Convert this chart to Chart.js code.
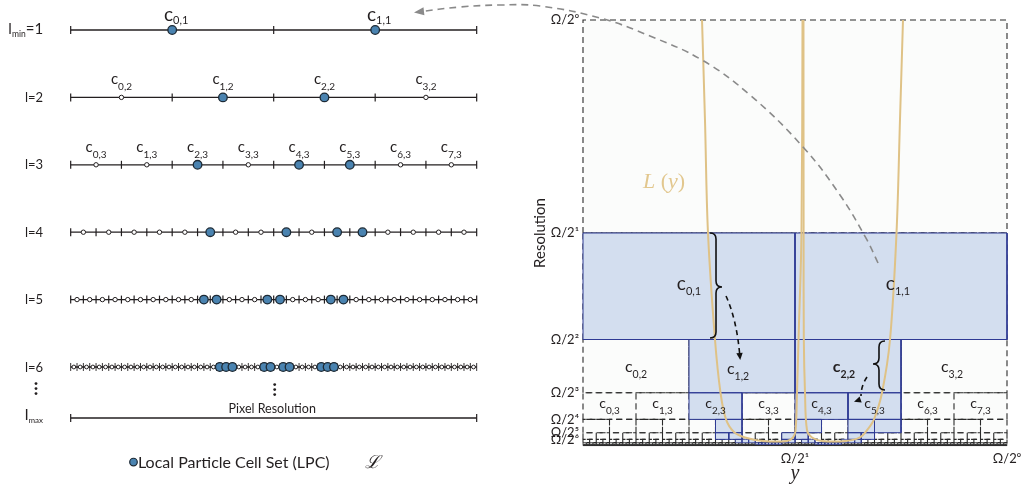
<!DOCTYPE html>
<html><head><meta charset="utf-8">
<script src="https://cdn.jsdelivr.net/npm/chart.js@4.4.0/dist/chart.umd.min.js"></script>
<style>
html,body{margin:0;padding:0;background:#fff;}
#wrap{position:relative;width:1032px;height:489px;overflow:hidden;background:#fff;}
.box{position:absolute;left:0;top:0;}
</style></head><body>
<div id="wrap">
<div class="box" style="width:1032px;height:489px"><canvas id="right"></canvas></div>
<div class="box" style="width:520px;height:489px"><canvas id="left"></canvas></div>
</div>
<script>
// ---------------- DATA ----------------
// Left panel: Local Particle Cell levels
const levels = [1, 2, 3, 4, 5, 6];
const levelLabels = ['l_{min}=1', 'l=2', 'l=3', 'l=4', 'l=5', 'l=6'];
const lpcCells = [[0, 1], [1, 2], [2, 4, 5], [5, 8, 10, 11], [10, 11, 15, 16, 20, 21], [23, 24, 25, 30, 31, 33, 34, 39, 40, 41]];
const labelledLevels = [1, 2, 3];
const lmaxRow = 6.757;
const lmaxLabel = 'l_{max}';
const pixelResLabel = 'Pixel Resolution';
const legendLabel = 'Local Particle Cell Set (LPC)';
const legendSymbol = 'ℒ';

// Right panel: resolution grid
const gridLevels = [0, 1, 2, 3, 4, 5, 6, 7, 8, 9];
const blueCells = {
  1: [0, 1],
  2: [1, 2],
  3: [2, 4, 5],
  4: [5, 8, 10, 11],
  5: [10, 11, 15, 16, 20, 21],
  6: [23, 24, 25, 30, 31, 33, 34, 39, 40, 41],
  7: [52, 53, 54, 55, 56, 57, 58, 59, 70, 71, 72, 73, 74, 75, 76, 77]
};
const resTickVals = [1, 0.5, 0.25, 0.125, 0.0625, 0.03125, 0.015625];
const resTickLabels = ['Ω/2⁰', 'Ω/2¹', 'Ω/2²', 'Ω/2³', 'Ω/2⁴', 'Ω/2⁵', 'Ω/2⁶'];
const yTickVals = [0.5, 1];
const yTickLabels = ['Ω/2¹', 'Ω/2⁰'];
const cellLabelLevels = [1, 2, 3];

// L(y) curve, two U-shaped branches (x = position, y = resolution)
const curveLeft = [
  [0.2807, 1.0], [0.2877, 0.7653], [0.2948, 0.5], [0.3113, 0.25], [0.3243, 0.125],
  [0.3373, 0.0625], [0.3561, 0.0329], [0.3821, 0.02], [0.4245, 0.0117], [0.4811, 0.0117],
  [0.4953, 0.02], [0.5012, 0.0352], [0.5047, 0.125], [0.5083, 0.25], [0.5153, 0.5], [0.5177, 1.0]
];
const curveRight = [
  [0.5200, 1.0], [0.5203, 0.5], [0.5208, 0.25], [0.5236, 0.125], [0.5283, 0.0376],
  [0.5401, 0.02], [0.5637, 0.0117], [0.6203, 0.0117], [0.6533, 0.02], [0.6722, 0.04],
  [0.6863, 0.0625], [0.7052, 0.125], [0.7241, 0.25], [0.7394, 0.5], [0.7476, 0.7653], [0.7547, 1.0]
];
// dashed connector from the right panel back to the left panel (ends at the arrow tip)
const arcPath = [
  [0.6958, 0.4296], [0.6698, 0.4836], [0.6061, 0.5892], [0.5189, 0.7019], [0.3939, 0.8239],
  [0.2807, 0.9061], [0.1580, 0.9624], [0.0401, 1.0047], [-0.1014, 1.0329], [-0.1958, 1.0352],
  [-0.2901, 1.0305], [-0.3915, 1.0188]
];
const braces = [
  {x: 0.3137, top: 0.5, bottom: 0.2535, tip: 0.3732, dir: 1, d: 6},
  {x: 0.6981, top: 0.2465, bottom: 0.1315, tip: 0.1925, dir: -1, d: 6}
];
const arrows = [
  {from: [0.3373, 0.3521], ctrl: [0.3632, 0.2958], to: [0.3703, 0.2066], head: [0.3703, 0.2066], dirPx: [0.1, 1]},
  {from: [0.6698, 0.1620], ctrl: [0.6557, 0.1408], to: [0.6557, 0.1174], head: [0.6439, 0.1056], dirPx: [-1, 0.35]}
];
const curveLabelPos = [0.1415, 0.6197];

// ---------------- STYLE ----------------
const FONT = 'Lato, "Open Sans", "DejaVu Sans", sans-serif';
const TXT = '#231f20';
const LINE = '#231f20';
const BLUE_PT = '#4a83b0';
const CELL_BLUE = '#d3deef';
const CELL_EDGE = '#2e3a94';
const CURVE = '#dfc286';
const pow2 = l => Math.pow(2, l);

function parseRich(s) {
  const parts = []; const re = /_\{([^}]*)\}/g; let last = 0, m;
  while ((m = re.exec(s))) {
    if (m.index > last) parts.push({t: s.slice(last, m.index), sub: false});
    parts.push({t: m[1], sub: true}); last = re.lastIndex;
  }
  if (last < s.length) parts.push({t: s.slice(last), sub: false});
  return parts;
}
function drawRich(ctx, s, x, y, o) {
  const parts = parseRich(s);
  const w = o.weight || 'normal', fam = o.family || FONT;
  const fnt = p => `${w} ${p.sub ? o.subSize : o.size}px ${fam}`;
  const widths = parts.map(p => { ctx.font = fnt(p); return ctx.measureText(p.t).width; });
  const total = widths.reduce((a, b) => a + b, 0);
  let cx = o.align === 'right' ? x - total : o.align === 'center' ? x - total / 2 : x;
  ctx.textAlign = 'left'; ctx.textBaseline = 'alphabetic'; ctx.fillStyle = o.color || TXT;
  parts.forEach((p, i) => { ctx.font = fnt(p); ctx.fillText(p.t, cx, y + (p.sub ? o.subDy : 0)); cx += widths[i]; });
}

// ---------------- LEFT CHART ----------------
const lpcPts = [], whitePts = [], tickPts = [], lineSets = [];
levels.forEach((l, i) => {
  const n = pow2(l);
  for (let k = 0; k < n; k++) {
    const p = {x: (k + 0.5) / n, y: l};
    (lpcCells[i].includes(k) ? lpcPts : whitePts).push(p);
  }
  for (let k = 0; k <= n; k++) tickPts.push({x: k / n, y: l});
  lineSets.push({data: [{x: 0, y: l}, {x: 1, y: l}], showLine: true, borderColor: LINE, borderWidth: 1.3, pointRadius: 0});
});
tickPts.push({x: 0, y: lmaxRow}, {x: 1, y: lmaxRow});
lineSets.push({data: [{x: 0, y: lmaxRow}, {x: 1, y: lmaxRow}], showLine: true, borderColor: LINE, borderWidth: 1.3, pointRadius: 0});

const leftText = {
  id: 'leftText',
  afterDatasetsDraw(chart) {
    const {ctx, scales: {x, y}} = chart;
    ctx.save();
    const rx = x.getPixelForValue(-0.068);
    levels.forEach((l, i) => {
      if (i === 0) drawRich(ctx, levelLabels[i], rx, y.getPixelForValue(l) + 4.5, {size: 15, subSize: 8.5, subDy: 3, align: 'right'});
      else drawRich(ctx, levelLabels[i], rx, y.getPixelForValue(l) + 4.7, {size: 13, subSize: 8.5, subDy: 3, align: 'right'});
    });
    drawRich(ctx, lmaxLabel, rx, y.getPixelForValue(lmaxRow) + 2, {size: 16, subSize: 8, subDy: 3, align: 'right'});
    // cell labels
    labelledLevels.forEach(l => {
      const n = pow2(l);
      for (let k = 0; k < n; k++) {
        const px = x.getPixelForValue((k + 0.5) / n) + (l === 1 ? 4 : 0);
        const py = y.getPixelForValue(l) - (l === 1 ? 9 : 13);
        drawRich(ctx, `c_{${k},${l}}`, px, py, l === 1 ? {size: 19, subSize: 11, subDy: 3, align: 'center'} : {size: 15, subSize: 10, subDy: 6, align: 'center'});
      }
    });
    // vertical ellipsis
    ctx.fillStyle = TXT;
    [[-0.0854, 6.32], [0.5025, 6.335]].forEach(([vx, vr]) => {
      const cx = x.getPixelForValue(vx), cy = y.getPixelForValue(vr);
      [-5, 0, 5].forEach(dy => { ctx.beginPath(); ctx.arc(cx, cy + dy, 1.4, 0, Math.PI * 2); ctx.fill(); });
    });
    ctx.font = `12.5px ${FONT}`; ctx.textAlign = 'center'; ctx.textBaseline = 'alphabetic';
    ctx.fillText(pixelResLabel, x.getPixelForValue(0.4963), y.getPixelForValue(6.683));
    // legend
    const ly = y.getPixelForValue(7.41);
    const lx = x.getPixelForValue(0.1547);
    ctx.beginPath(); ctx.arc(lx, ly, 3.8, 0, Math.PI * 2);
    ctx.fillStyle = BLUE_PT; ctx.fill(); ctx.lineWidth = 1.2; ctx.strokeStyle = '#1d2a35'; ctx.stroke();
    ctx.fillStyle = TXT; ctx.textAlign = 'left'; ctx.textBaseline = 'alphabetic';
    ctx.font = `16px ${FONT}`;
    ctx.fillText(legendLabel, lx + 4.5, ly + 6);
    ctx.font = `italic 18px "DejaVu Serif", serif`;
    ctx.fillText(legendSymbol, x.getPixelForValue(0.726), ly + 6);
    ctx.restore();
  }
};

new Chart(document.getElementById('left'), {
  type: 'scatter',
  data: {datasets: [
    {data: lpcPts, pointRadius: 4.3, pointBackgroundColor: BLUE_PT, pointBorderColor: '#1d2a35', pointBorderWidth: 1.3},
    {data: whitePts, pointRadius: c => (c.raw && c.raw.y === 6 ? 1.9 : 2.2), pointBackgroundColor: '#fff', pointBorderColor: LINE, pointBorderWidth: 1},
    {data: tickPts, pointStyle: 'line', pointRotation: 90, pointRadius: 4, pointBorderColor: LINE, pointBorderWidth: c => (c.raw && c.raw.y === 6 ? 0.9 : 1.2)},
    ...lineSets
  ]},
  options: {
    responsive: true, maintainAspectRatio: false, animation: false, events: [],
    layout: {padding: 0, autoPadding: false},
    plugins: {legend: {display: false}, tooltip: {enabled: false}},
    scales: {
      x: {type: 'linear', display: false, min: -0.1741, max: 1.1067},
      y: {type: 'linear', display: false, reverse: true, min: 0.5549, max: 7.8101}
    }
  },
  plugins: [leftText]
});

// ---------------- RIGHT CHART ----------------
function rectPts(l, k) {
  const n = pow2(l), x0 = k / n, x1 = (k + 1) / n, t = 1 / n, b = 1 / (2 * n);
  return [{x: x0, y: b}, {x: x0, y: t}, {x: x1, y: t}, {x: x1, y: b}, {x: x0, y: b}, {x: x1, y: null}];
}
const whiteBorderSets = gridLevels.map(l => {
  const data = [];
  for (let k = 0; k < pow2(l); k++) data.push(...rectPts(l, k));
  return {data, showLine: true, borderColor: '#2a2a2a', borderWidth: l > 6 ? 0.8 : 1.1, borderDash: [6, 4], pointRadius: 0, clip: false};
});
const blueBorderSets = [], blueFillSets = [];
Object.keys(blueCells).forEach(key => {
  const l = +key, n = pow2(l);
  const bd = [], fd = [];
  blueCells[key].forEach(k => {
    bd.push(...rectPts(l, k));
    fd.push({x: k / n, y: 1 / n}, {x: (k + 1) / n, y: 1 / n}, {x: (k + 1) / n, y: null});
  });
  blueBorderSets.push({data: bd, showLine: true, borderColor: CELL_EDGE, borderWidth: l > 5 ? 0.7 : 1, pointRadius: 0, clip: false});
  blueFillSets.push({data: fd, showLine: true, borderWidth: 0, borderColor: 'rgba(0,0,0,0)', pointRadius: 0, fill: {value: 1 / (2 * n)}, backgroundColor: CELL_BLUE});
});
const bgFill = {data: [{x: 0, y: 1}, {x: 1, y: 1}], showLine: true, borderWidth: 0, borderColor: 'rgba(0,0,0,0)', pointRadius: 0, fill: {value: 0}, backgroundColor: '#fbfcfb'};
const toPts = a => a.map(([x, y]) => ({x, y}));
const curveSets = [curveLeft, curveRight].map(c => ({data: toPts(c), showLine: true, borderColor: CURVE, borderWidth: 2, pointRadius: 0, tension: 0.35, clip: false}));
const arcSet = {data: toPts(arcPath), showLine: true, borderColor: '#8a8a8a', borderWidth: 1.6, borderDash: [7, 5], pointRadius: 0, tension: 0.4, clip: false};

function arrowHead(ctx, x, y, dx, dy, len, hw, color) {
  const m = Math.hypot(dx, dy); dx /= m; dy /= m;
  ctx.beginPath();
  ctx.moveTo(x, y);
  ctx.lineTo(x - dx * len - dy * hw, y - dy * len + dx * hw);
  ctx.lineTo(x - dx * len + dy * hw, y - dy * len - dx * hw);
  ctx.closePath(); ctx.fillStyle = color; ctx.fill();
}

const rightText = {
  id: 'rightText',
  afterDatasetsDraw(chart) {
    const {ctx, scales: {x, y}} = chart;
    const P = ([a, b]) => [x.getPixelForValue(a), y.getPixelForValue(b)];
    ctx.save();
    // cell labels
    const sizes = {1: [19, 11, 5, 4], 2: [16, 10.5, 6, 6], 3: [14, 10, 6, 1.5]};
    const shift = {'1,1': -3, '1,2': -4, '2,2': -4, '3,2': -2};
    cellLabelLevels.forEach(l => {
      const n = pow2(l);
      for (let k = 0; k < n; k++) {
        const s = sizes[l];
        const cx = x.getPixelForValue((k + 0.5) / n) + (shift[k + ',' + l] || 0);
        const cy = y.getPixelForValue(0.75 / n) + s[3] + (k === 1 && l === 2 ? 2 : 0);
        drawRich(ctx, `c_{${k},${l}}`, cx, cy, {size: s[0], subSize: s[1], subDy: s[2], align: 'center', weight: (k === 2 && l === 2) ? 'bold' : 'normal'});
      }
    });
    // L(y) label
    const [lx, ly] = P(curveLabelPos);
    ctx.fillStyle = '#e2c78e'; ctx.textBaseline = 'middle'; ctx.textAlign = 'left';
    const parts = [['L', 'italic'], [' (', 'normal'], ['y', 'italic'], [')', 'normal']];
    let cx = lx;
    parts.forEach(([t, st]) => { ctx.font = `${st} 22px "Liberation Serif", serif`; ctx.fillText(t, cx, ly); cx += ctx.measureText(t).width; });
    // braces
    ctx.strokeStyle = '#111'; ctx.lineWidth = 1.6; ctx.setLineDash([]);
    braces.forEach(b => {
      const X = x.getPixelForValue(b.x), T = y.getPixelForValue(b.top), B = y.getPixelForValue(b.bottom), M = y.getPixelForValue(b.tip);
      const d = b.d, s = b.dir;
      ctx.beginPath();
      ctx.moveTo(X - s * d, T);
      ctx.quadraticCurveTo(X, T, X, T + d);
      ctx.lineTo(X, M - d);
      ctx.quadraticCurveTo(X, M, X + s * d, M);
      ctx.quadraticCurveTo(X, M, X, M + d);
      ctx.lineTo(X, B - d);
      ctx.quadraticCurveTo(X, B, X - s * d, B);
      ctx.stroke();
    });
    // dashed arrows
    arrows.forEach(a => {
      const f = P(a.from), c = P(a.ctrl), t = P(a.to), h = P(a.head);
      ctx.setLineDash([5, 4]); ctx.lineWidth = 1.6; ctx.strokeStyle = '#111';
      ctx.beginPath(); ctx.moveTo(f[0], f[1]); ctx.quadraticCurveTo(c[0], c[1], t[0], t[1]); ctx.stroke();
      ctx.setLineDash([]);
      arrowHead(ctx, h[0] + a.dirPx[0] * 2, h[1] + a.dirPx[1] * 2, a.dirPx[0], a.dirPx[1], 7, 3.2, '#111');
    });
    // arc arrowhead at its left end
    const n = arcPath.length;
    const a0 = P(arcPath[n - 1]), a1 = P(arcPath[n - 2]);
    arrowHead(ctx, a0[0] - 3, a0[1] + 0.5, a0[0] - a1[0], a0[1] - a1[1], 10, 4, '#8a8a8a');
    ctx.restore();
  }
};

new Chart(document.getElementById('right'), {
  type: 'scatter',
  data: {datasets: [arcSet, ...curveSets, ...blueBorderSets, ...blueFillSets, ...whiteBorderSets, bgFill]},
  options: {
    responsive: true, maintainAspectRatio: false, animation: false, events: [],
    layout: {padding: {left: 523, top: 20, right: 25, bottom: 0}, autoPadding: false},
    elements: {line: {capBezierPoints: false}, point: {radius: 0}},
    plugins: {legend: {display: false}, tooltip: {enabled: false}},
    scales: {
      x: {
        type: 'linear', min: 0, max: 1, position: 'bottom',
        afterBuildTicks: s => { s.ticks = yTickVals.map(v => ({value: v})); },
        afterFit: s => { s.height = 43; },
        ticks: {autoSkip: false, maxRotation: 0, padding: 5, color: TXT, font: {family: FONT, size: 13},
          callback: v => yTickLabels[yTickVals.indexOf(v)]},
        grid: {display: false, drawTicks: false}, border: {display: false},
        title: {display: true, text: 'y', color: TXT, font: {family: '"Liberation Serif", serif', size: 20, style: 'italic'}, padding: {top: 0, bottom: 3}}
      },
      y: {
        type: 'linear', min: 0, max: 1, position: 'left',
        afterBuildTicks: s => { s.ticks = resTickVals.map(v => ({value: v})); },
        afterFit: s => { s.width = 60; },
        ticks: {autoSkip: false, padding: 4, color: TXT, font: {family: FONT, size: 13},
          callback: v => resTickLabels[resTickVals.indexOf(v)]},
        grid: {display: false, drawTicks: false}, border: {display: false},
        title: {display: true, text: 'Resolution', color: TXT, font: {family: FONT, size: 15}, padding: {top: 8, bottom: 0}}
      }
    }
  },
  plugins: [rightText]
});
</script>
</body></html>
